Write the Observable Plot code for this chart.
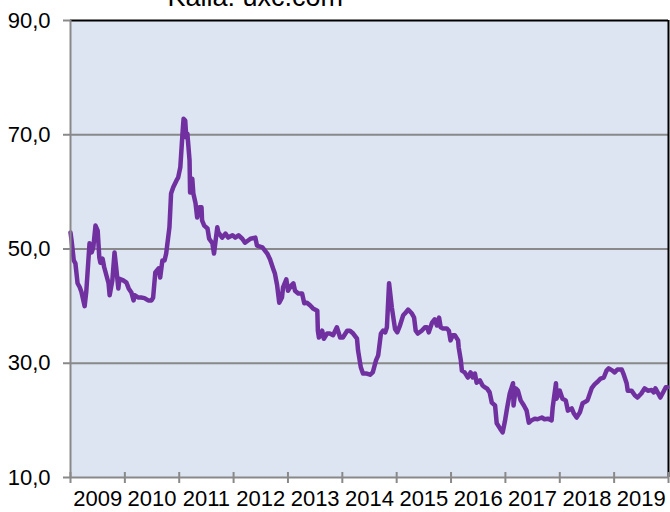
<!DOCTYPE html>
<html>
<head>
<meta charset="utf-8">
<script src="https://cdn.jsdelivr.net/npm/d3@7"></script>
<script src="https://cdn.jsdelivr.net/npm/@observablehq/plot@0.6"></script>
<style>
  html, body { margin: 0; padding: 0; background: #fff; }
  #chart { width: 670px; height: 512px; overflow: hidden; }
</style>
</head>
<body>
<div id="chart"></div>
<script>
// Uranium spot price (USD/lb U3O8), decimal years
const titleText = "Källa: uxc.com";
const years = [
  2009.00, 2009.02, 2009.06, 2009.09, 2009.13, 2009.17, 2009.20, 2009.26, 2009.29, 2009.35,
  2009.39, 2009.42, 2009.46, 2009.50, 2009.53, 2009.55, 2009.59, 2009.62, 2009.70, 2009.72,
  2009.77, 2009.81, 2009.84, 2009.88, 2009.90, 2009.97, 2010.03, 2010.07, 2010.12, 2010.16,
  2010.18, 2010.25, 2010.30, 2010.36, 2010.43, 2010.49, 2010.52, 2010.56, 2010.62, 2010.65,
  2010.69, 2010.73, 2010.76, 2010.82, 2010.85, 2010.89, 2010.95, 2010.98, 2011.02, 2011.06,
  2011.08, 2011.11, 2011.13, 2011.15, 2011.19, 2011.20, 2011.24, 2011.26, 2011.30, 2011.33,
  2011.37, 2011.41, 2011.42, 2011.46, 2011.52, 2011.55, 2011.61, 2011.64, 2011.70, 2011.72,
  2011.79, 2011.85, 2011.90, 2011.98, 2012.03, 2012.09, 2012.16, 2012.21, 2012.31, 2012.40,
  2012.43, 2012.53, 2012.62, 2012.67, 2012.73, 2012.76, 2012.80, 2012.84, 2012.89, 2012.91,
  2012.97, 2013.00, 2013.06, 2013.10, 2013.13, 2013.19, 2013.26, 2013.30, 2013.35, 2013.41,
  2013.46, 2013.54, 2013.55, 2013.57, 2013.63, 2013.66, 2013.72, 2013.77, 2013.83, 2013.90,
  2013.96, 2014.01, 2014.09, 2014.14, 2014.20, 2014.27, 2014.29, 2014.34, 2014.38, 2014.45,
  2014.51, 2014.56, 2014.62, 2014.66, 2014.71, 2014.75, 2014.79, 2014.82, 2014.86, 2014.91,
  2014.97, 2015.01, 2015.06, 2015.12, 2015.17, 2015.21, 2015.28, 2015.32, 2015.35, 2015.39,
  2015.46, 2015.52, 2015.56, 2015.59, 2015.65, 2015.70, 2015.74, 2015.78, 2015.81, 2015.85,
  2015.92, 2015.96, 2015.99, 2016.03, 2016.07, 2016.13, 2016.14, 2016.18, 2016.20, 2016.25,
  2016.31, 2016.36, 2016.40, 2016.44, 2016.47, 2016.53, 2016.58, 2016.62, 2016.66, 2016.71,
  2016.75, 2016.81, 2016.84, 2016.90, 2016.95, 2016.99, 2017.03, 2017.08, 2017.14, 2017.15,
  2017.19, 2017.23, 2017.28, 2017.34, 2017.39, 2017.43, 2017.48, 2017.54, 2017.59, 2017.67,
  2017.72, 2017.78, 2017.85, 2017.87, 2017.93, 2017.94, 2018.00, 2018.05, 2018.11, 2018.15,
  2018.22, 2018.26, 2018.31, 2018.37, 2018.42, 2018.48, 2018.51, 2018.59, 2018.64, 2018.70,
  2018.75, 2018.81, 2018.86, 2018.90, 2018.97, 2019.01, 2019.06, 2019.14, 2019.17, 2019.23,
  2019.25, 2019.32, 2019.38, 2019.43, 2019.50, 2019.56, 2019.62, 2019.69, 2019.73, 2019.76,
  2019.80, 2019.85, 2019.89, 2019.95, 2019.98
];
const prices = [
  52.9, 51.5, 48.0, 47.5, 44.0, 43.3, 42.5, 40.0, 42.5, 51.0,
  49.4, 50.3, 54.1, 53.2, 48.5, 47.6, 48.3, 46.8, 44.0, 41.9,
  44.5, 49.4, 46.8, 43.1, 44.8, 44.5, 44.1, 43.1, 42.4, 41.0,
  41.9, 41.5, 41.5, 41.4, 41.0, 41.0, 41.5, 45.9, 46.6, 45.0,
  48.0, 48.0, 49.2, 53.8, 59.7, 60.8, 62.0, 62.5, 64.3, 70.2,
  72.8, 72.5, 69.5, 70.2, 65.5, 59.9, 62.3, 59.7, 58.0, 55.5,
  57.3, 57.3, 55.0, 54.1, 53.6, 51.8, 51.0, 49.2, 53.8, 52.9,
  52.0, 52.7, 52.0, 52.4, 52.0, 52.4, 51.8, 51.1, 51.8, 52.0,
  50.6, 50.3, 49.2, 48.2, 46.5, 45.7, 43.7, 40.6, 41.5, 43.3,
  44.7, 42.7, 43.6, 44.0, 42.7, 42.2, 42.2, 40.5, 40.6, 40.1,
  39.6, 39.2, 35.7, 34.5, 35.7, 34.3, 35.2, 35.2, 34.9, 36.3,
  34.5, 34.5, 35.7, 35.7, 35.2, 34.3, 32.2, 29.3, 28.2, 28.2,
  28.0, 28.4, 30.5, 31.4, 35.2, 35.7, 35.4, 36.3, 44.0, 39.8,
  36.0, 35.4, 36.6, 38.4, 38.9, 39.4, 38.7, 38.0, 35.7, 35.2,
  35.7, 36.3, 36.3, 35.4, 37.1, 37.7, 36.6, 38.0, 36.3, 36.1,
  36.1, 35.7, 34.0, 34.9, 34.9, 34.0, 32.8, 30.5, 28.7, 28.4,
  27.5, 28.4, 27.5, 28.2, 26.6, 27.0, 26.1, 25.8, 25.6, 24.9,
  23.1, 22.6, 19.5, 18.6, 17.9, 19.8, 22.1, 24.7, 26.5, 22.6,
  25.6, 25.2, 23.5, 22.6, 21.7, 19.6, 20.0, 20.3, 20.2, 20.5,
  20.2, 20.3, 20.0, 22.3, 26.5, 23.8, 25.2, 23.8, 23.5, 21.7,
  22.1, 21.2, 20.5, 21.4, 23.0, 23.3, 23.5, 25.7, 26.3, 26.8,
  27.3, 27.5, 28.7, 29.1, 28.7, 28.4, 28.9, 28.9, 28.2, 26.5,
  25.2, 25.2, 24.4, 24.0, 24.7, 25.6, 25.2, 25.3, 24.9, 25.6,
  24.9, 24.0, 24.7, 25.8, 25.8
];
const yTicks = [10, 30, 50, 70, 90];
const gridValues = [30, 50, 70];
const yearBounds = [2009, 2010, 2011, 2012, 2013, 2014, 2015, 2016, 2017, 2018, 2019, 2020];
const yearLabels = ["2009", "2010", "2011", "2012", "2013", "2014", "2015", "2016", "2017", "2018", "2019"];

const data = years.map((t, i) => ({t, v: prices[i]}));
const labelPos = yearLabels.map(s => +s + 0.5);

const gray = "#898989";
const chart = Plot.plot({
  width: 670,
  height: 512,
  marginLeft: 70,
  marginRight: 2,
  marginTop: 20,
  marginBottom: 35,
  x: {domain: [yearBounds[0], yearBounds[yearBounds.length - 1]], label: null},
  y: {domain: [yTicks[0], yTicks[yTicks.length - 1]], label: null},
  style: {fontFamily: "'Liberation Sans', Arial, sans-serif", fontSize: "22px", color: "#000", background: "#fff", overflow: "hidden"},
  marks: [
    Plot.frame({fill: "#dce5f1", stroke: null}),
    Plot.ruleY(gridValues, {stroke: gray, strokeWidth: 2}),
    Plot.ruleY([yTicks[yTicks.length - 1]], {stroke: "#000", strokeWidth: 2}),
    Plot.ruleX([yearBounds[yearBounds.length - 1]], {stroke: "#000", strokeWidth: 2}),
    Plot.lineY(data, {x: "t", y: "v", stroke: "#7030a0", strokeWidth: 4.5, strokeLinejoin: "round", strokeLinecap: "round"}),
    Plot.ruleX([yearBounds[0]], {stroke: gray, strokeWidth: 2}),
    Plot.ruleY([yTicks[0]], {stroke: gray, strokeWidth: 2}),
    Plot.axisY({ticks: yTicks, tickSize: 7, tickPadding: 13, stroke: gray, strokeWidth: 2, fill: "#000",
      tickFormat: d => d.toFixed(1).replace(".", ","), fontSize: 22}),
    Plot.axisX({ticks: yearBounds, tickSize: 11, dy: -5, text: null, stroke: gray, strokeWidth: 2}),
    Plot.axisX({ticks: labelPos, tickSize: 0, tickPadding: 13, fill: "#000",
      tickFormat: d => yearLabels[Math.round(d - 0.5) - 2009] ?? "", fontSize: 22}),
    Plot.text([titleText], {frameAnchor: "top-left", dx: 97, dy: -15, textAnchor: "start", lineAnchor: "bottom", fontSize: 27, fill: "#000"})
  ]
});
document.getElementById("chart").appendChild(chart);
</script>
</body>
</html>
